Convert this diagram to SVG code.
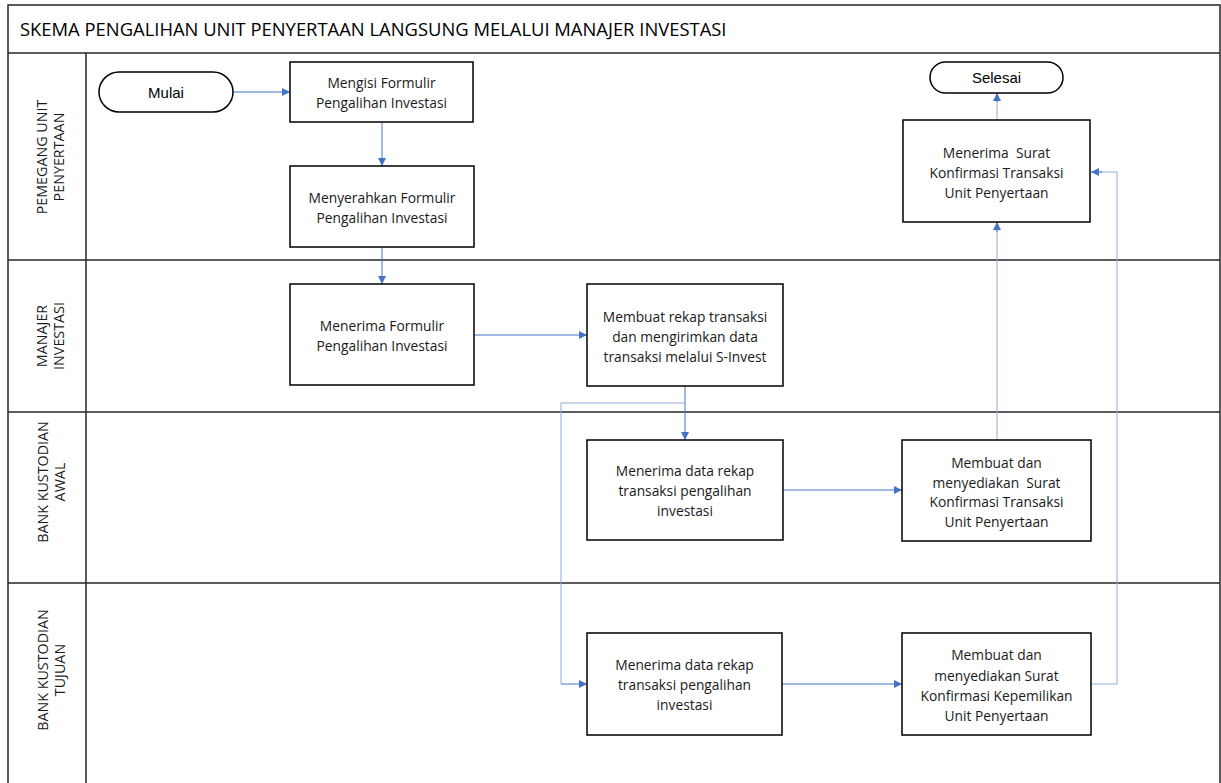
<svg xmlns="http://www.w3.org/2000/svg" width="1221" height="783" viewBox="0 0 1221 783">
<defs>
<style>
.frame{fill:none;stroke:#262626;stroke-width:1.5}
.box{fill:#fff;stroke:#000;stroke-width:1.5}
.t{font-family:"Open Sans","Noto Sans",sans-serif;font-size:13.8px;fill:#1a1a1a;text-anchor:middle;dominant-baseline:central;white-space:pre}
.term{font-family:"Liberation Sans",Arial,sans-serif;font-size:15px;fill:#000;text-anchor:middle;dominant-baseline:central}
.lane{font-family:"Open Sans","Noto Sans",sans-serif;font-size:14.3px;fill:#1a1a1a;text-anchor:middle;dominant-baseline:central}
.title{font-family:"Open Sans","Noto Sans",sans-serif;font-size:18.4px;fill:#000;dominant-baseline:central}
.c{fill:none;stroke:#4472C4;stroke-width:1}
.cl{fill:none;stroke:#8FAADC;stroke-width:1}
</style>
<marker id="ah" viewBox="0 0 10 10" refX="10" refY="5" markerWidth="8" markerHeight="8" markerUnits="userSpaceOnUse" orient="auto">
<path d="M0,0 L10,5 L0,10 z" fill="#4472C4"/>
</marker>
</defs>
<rect width="1221" height="783" fill="#fff"/>
<g id="frame">
<path class="frame" d="M8,783 V5 H1220 V783"/>
<line class="frame" x1="8" y1="53" x2="1220" y2="53"/>
<line class="frame" x1="86" y1="53" x2="86" y2="783"/>
<line class="frame" x1="8" y1="260" x2="1220" y2="260"/>
<line class="frame" x1="8" y1="412" x2="1220" y2="412"/>
<line class="frame" x1="8" y1="583" x2="1220" y2="583"/>
<text class="title" x="20" y="28">SKEMA PENGALIHAN UNIT PENYERTAAN LANGSUNG MELALUI MANAJER INVESTASI</text>
</g>
<g id="lane-labels">
<text class="lane" transform="translate(0,157) rotate(-90)"><tspan x="0" y="41">PEMEGANG UNIT</tspan><tspan x="0" y="58">PENYERTAAN</tspan></text>
<text class="lane" transform="translate(0,336) rotate(-90)"><tspan x="0" y="41">MANAJER</tspan><tspan x="0" y="58">INVESTASI</tspan></text>
<text class="lane" transform="translate(0,482) rotate(-90)"><tspan x="0" y="42">BANK KUSTODIAN</tspan><tspan x="0" y="59">AWAL</tspan></text>
<text class="lane" transform="translate(0,670) rotate(-90)"><tspan x="0" y="42">BANK KUSTODIAN</tspan><tspan x="0" y="59">TUJUAN</tspan></text>
</g>
<g id="connectors">
<line class="c" x1="233" y1="92" x2="290" y2="92" marker-end="url(#ah)"/>
<line class="c" x1="382" y1="123" x2="382" y2="166" marker-end="url(#ah)"/>
<line class="c" x1="382" y1="247" x2="382" y2="284" marker-end="url(#ah)"/>
<line class="c" x1="474" y1="335" x2="587" y2="335" marker-end="url(#ah)"/>
<line class="c" x1="685" y1="386" x2="685" y2="440" marker-end="url(#ah)"/>
<path class="cl" d="M685,403 H561 V684"/>
<line class="c" x1="561" y1="684" x2="587" y2="684" marker-end="url(#ah)"/>
<line class="c" x1="783" y1="490" x2="902" y2="490" marker-end="url(#ah)"/>
<line class="c" x1="782" y1="684" x2="902" y2="684" marker-end="url(#ah)"/>
<path class="cl" d="M997,440 V230"/>
<line class="c" x1="997" y1="232" x2="997" y2="222" marker-end="url(#ah)"/>
<path class="cl" d="M997,120 V100"/>
<line class="c" x1="997" y1="102" x2="997" y2="93" marker-end="url(#ah)"/>
<path class="cl" d="M1091,684 H1117 V172 H1100"/>
<line class="c" x1="1102" y1="172" x2="1091" y2="172" marker-end="url(#ah)"/>
</g>
<g id="mulai">
<rect class="box" x="99" y="72" width="134" height="40" rx="20"/>
<text class="term" x="166" y="92">Mulai</text>
</g>
<g id="mengisi">
<rect class="box" x="290" y="62" width="183" height="60"/>
<text class="t"><tspan x="381.5" y="82">Mengisi Formulir</tspan><tspan x="381.5" y="102">Pengalihan Investasi</tspan></text>
</g>
<g id="menyerahkan">
<rect class="box" x="290" y="166" width="184" height="81"/>
<text class="t"><tspan x="382" y="197">Menyerahkan Formulir</tspan><tspan x="382" y="217">Pengalihan Investasi</tspan></text>
</g>
<g id="menerima-formulir">
<rect class="box" x="290" y="284" width="184" height="101"/>
<text class="t"><tspan x="382" y="325">Menerima Formulir</tspan><tspan x="382" y="345">Pengalihan Investasi</tspan></text>
</g>
<g id="membuat-rekap">
<rect class="box" x="587" y="284" width="196" height="102"/>
<text class="t"><tspan x="685" y="316">Membuat rekap transaksi</tspan><tspan x="685" y="336">dan mengirimkan data</tspan><tspan x="685" y="356">transaksi melalui S-Invest</tspan></text>
</g>
<g id="menerima-data-awal">
<rect class="box" x="587" y="440" width="196" height="100"/>
<text class="t"><tspan x="685" y="470">Menerima data rekap</tspan><tspan x="685" y="490">transaksi pengalihan</tspan><tspan x="685" y="510">investasi</tspan></text>
</g>
<g id="membuat-surat-awal">
<rect class="box" x="902" y="440" width="189" height="101"/>
<text class="t"><tspan x="996.5" y="462">Membuat dan</tspan><tspan x="996.5" y="482">menyediakan  Surat</tspan><tspan x="996.5" y="501">Konfirmasi Transaksi</tspan><tspan x="996.5" y="521">Unit Penyertaan</tspan></text>
</g>
<g id="menerima-surat">
<rect class="box" x="903" y="120" width="187" height="102"/>
<text class="t"><tspan x="996.5" y="152">Menerima  Surat</tspan><tspan x="996.5" y="172">Konfirmasi Transaksi</tspan><tspan x="996.5" y="192">Unit Penyertaan</tspan></text>
</g>
<g id="selesai">
<rect class="box" x="930" y="62" width="133" height="31" rx="15.5"/>
<text class="term" x="996.5" y="77.5">Selesai</text>
</g>
<g id="menerima-data-tujuan">
<rect class="box" x="587" y="633" width="195" height="102"/>
<text class="t"><tspan x="684.5" y="664">Menerima data rekap</tspan><tspan x="684.5" y="684">transaksi pengalihan</tspan><tspan x="684.5" y="704">investasi</tspan></text>
</g>
<g id="membuat-surat-tujuan">
<rect class="box" x="902" y="633" width="189" height="102"/>
<text class="t"><tspan x="996.5" y="654">Membuat dan</tspan><tspan x="996.5" y="675">menyediakan Surat</tspan><tspan x="996.5" y="695">Konfirmasi Kepemilikan</tspan><tspan x="996.5" y="715">Unit Penyertaan</tspan></text>
</g>
</svg>
